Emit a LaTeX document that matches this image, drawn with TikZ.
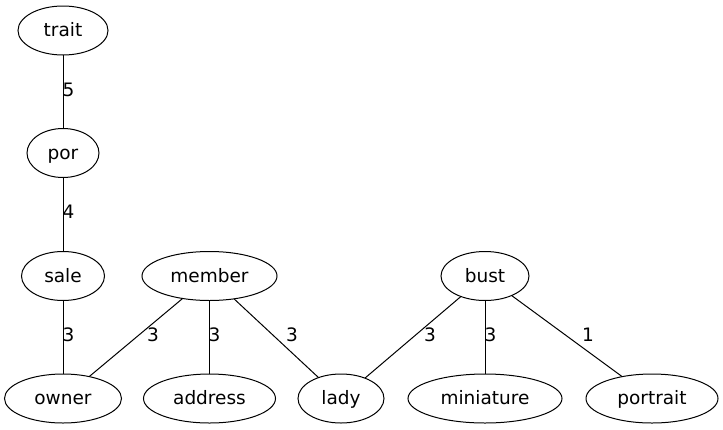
\documentclass[tikz,border=0pt]{standalone}
\usepackage{fontspec}
\setmainfont{DejaVu Sans}
\usetikzlibrary{shapes.geometric}
\tikzset{
  word/.style={ellipse,draw,line width=1pt,minimum height=49pt,inner sep=0pt,outer sep=0pt,
    text height=16pt,text depth=4pt,font=\fontsize{18.5}{22}\selectfont},
  link/.style={line width=1pt},
  weight/.style={inner sep=0pt,font=\fontsize{18.5}{22}\selectfont}
}

\begin{document}
\begin{tikzpicture}[x=1pt,y=-1pt]
  \useasboundingbox (0,0) rectangle (723,429);

  % Left chain
  \node[word,minimum width=90pt] (trait) at (63,30.5) {trait};
  \node[word,minimum width=72pt] (por) at (63,153) {por};
  \node[word,minimum width=83pt] (sale) at (63,276) {sale};
  \node[word,minimum width=117pt] (owner) at (63,398.5) {owner};

  % Middle group
  \node[word,minimum width=135pt] (member) at (209.5,276) {member};
  \node[word,minimum width=132pt] (address) at (209.5,398.5) {address};
  \node[word,minimum width=86pt] (lady) at (341,398.5) {lady};

  % Right group
  \node[word,minimum width=88pt] (bust) at (485,276) {bust};
  \node[word,minimum width=154pt] (miniature) at (485,398.5) {miniature};
  \node[word,minimum width=132pt] (portrait) at (652,398.5) {portrait};

  % Edges
  \draw[link] (trait) -- (por);
  \draw[link] (por) -- (sale);
  \draw[link] (sale) -- (owner);
  \draw[link] (member) -- (owner);
  \draw[link] (member) -- (address);
  \draw[link] (member) -- (lady);
  \draw[link] (bust) -- (lady);
  \draw[link] (bust) -- (miniature);
  \draw[link] (bust) -- (portrait);

  % Weights
  \node[weight] (w-trait) at (68.5,90) {5};
  \node[weight] (w-por) at (68.5,212) {4};
  \node[weight] (w-sale) at (68.5,335) {3};
  \node[weight] (w-owner) at (153,335) {3};
  \node[weight] (w-address) at (214.5,335) {3};
  \node[weight] (w-lady) at (292,335) {3};
  \node[weight] (w-bust) at (430,335) {3};
  \node[weight] (w-mini) at (490.5,335) {3};
  \node[weight] (w-portrait) at (588,335) {1};
\end{tikzpicture}
\end{document}
